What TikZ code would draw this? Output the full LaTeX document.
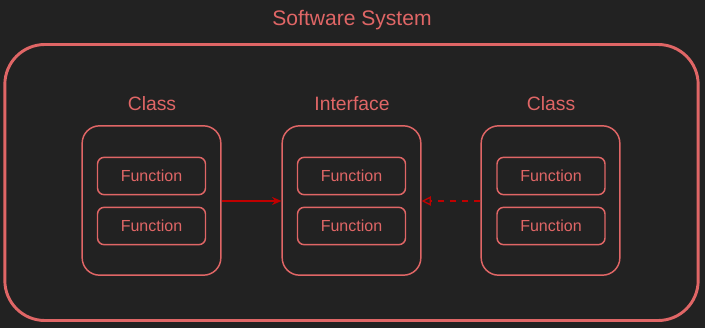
\documentclass[tikz,border=0pt]{standalone}
\usepackage{fontspec}
\setmainfont{Liberation Sans}
\usetikzlibrary{arrows.meta}
\definecolor{bg}{HTML}{222222}
\definecolor{salmon}{HTML}{E06666}
\definecolor{link}{HTML}{C00000}
\tikzset{
  system/.style={draw=salmon, line width=2.2pt, rounded corners=30pt,
    minimum width=520pt, minimum height=207pt},
  unit/.style={draw=salmon, line width=1.1pt, rounded corners=13pt,
    minimum width=104pt, minimum height=112pt},
  func/.style={draw=salmon, line width=1.1pt, rounded corners=5pt,
    minimum width=81pt, minimum height=28pt, text=salmon,
    font=\fontsize{12pt}{14pt}\selectfont},
  caption/.style={text=salmon, font=\fontsize{14.5pt}{17pt}\selectfont},
  uses/.style={draw=link, line width=1pt, -{Stealth[length=7pt,width=6pt]}},
  realizes/.style={draw=link, line width=1pt, dash pattern=on 5pt off 4pt,
    -{Triangle[open,length=7pt,width=7pt]}}
}
\begin{document}
\begin{tikzpicture}[x=0.75pt,y=-0.75pt]
  \fill[bg] (0,0) rectangle (705,328);
  \useasboundingbox (0,0) rectangle (705,328);
  \node[system] (sys) at (351.5,182.5) {};
  \node[caption, font=\fontsize{15.8pt}{18pt}\selectfont] (systitle) at (352,20) {Software System};
  % the three units
  \node[unit] (left) at (151.5,200.5) {};
  \node[unit] (mid) at (351.5,200.5) {};
  \node[unit] (right) at (550.5,200.5) {};
  \node[caption] (lefttitle) at (152,104) {Class};
  \node[caption] (midtitle) at (352,104) {Interface};
  \node[caption] (righttitle) at (551,104) {Class};
  % functions inside each unit
  \foreach \u/\x in {left/151.5, mid/351.5, right/551} {
    \node[func] (\u-a) at (\x,176) {Function};
    \node[func] (\u-b) at (\x,226) {Function};
  }
  \draw[uses] (left.east |- 0,201) -- (mid.west |- 0,201);
  \draw[realizes] (right.west |- 0,201) -- (mid.east |- 0,201);
\end{tikzpicture}
\end{document}
